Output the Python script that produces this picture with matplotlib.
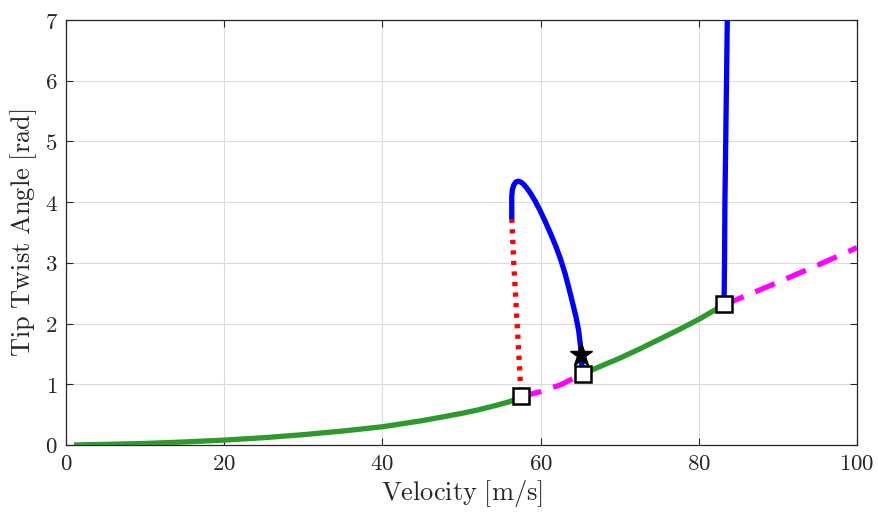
import matplotlib
matplotlib.use("Agg")
import matplotlib.pyplot as plt
from matplotlib.ticker import FuncFormatter

plt.rcParams['mathtext.fontset'] = 'cm'
plt.rcParams['font.family'] = ['DejaVu Serif']

# Stable branch (green) segments
green1_v = [1, 5, 10, 15, 20, 25, 30, 35, 40, 45, 50, 52, 54, 56, 57.5]
green1_y = [0.0, 0.01, 0.025, 0.05, 0.08, 0.12, 0.17, 0.23, 0.3, 0.4, 0.52, 0.575, 0.64, 0.71, 0.79]
green2_v = [65.3, 68, 70, 72.5, 75, 77.5, 80, 83.2]
green2_y = [1.17, 1.32, 1.43, 1.58, 1.74, 1.9, 2.07, 2.31]

# Unstable branch (magenta dashed)
mag1_v = [57.5, 60, 62.5, 65.3]
mag1_y = [0.79, 0.88, 0.99, 1.17]
mag2_v = [83.2, 86, 90, 95, 100]
mag2_y = [2.31, 2.46, 2.68, 2.96, 3.25]

# Limit cycle branches (blue stable, red unstable)
red_v = [57.5, 57.2, 56.9, 56.6, 56.35]
red_y = [0.88, 1.6, 2.3, 3.0, 3.76]
blue1_v = [56.35, 56.35, 56.42, 56.6, 56.85, 57.2, 57.5, 57.8, 58.2, 58.7, 59.3, 59.9, 60.5, 61.2, 61.9, 62.5, 63.1, 63.7, 64.1, 64.5, 64.8, 65.0, 65.15, 65.2]
blue1_y = [3.76, 4.09, 4.2, 4.28, 4.33, 4.345, 4.33, 4.3, 4.24, 4.15, 4.02, 3.87, 3.705, 3.5, 3.28, 3.07, 2.82, 2.52, 2.31, 2.09, 1.89, 1.68, 1.5, 1.35]
blue2_v = [83.2, 83.25, 83.3, 83.4, 83.5, 83.6]
blue2_y = [2.45, 3.0, 4.0, 5.0, 6.0, 7.0]

# Bifurcation points
hopf_v = [57.5, 65.3, 83.2]
hopf_y = [0.8, 1.17, 2.32]
star_v = [65.1]
star_y = [1.48]

fig = plt.figure(figsize=(8.79, 5.13), dpi=100)
ax = fig.add_axes([0.0751, 0.1326, 0.8999, 0.8284])

lw = 3.8
green = '#2e9a2e'
ax.plot(green1_v, green1_y, color=green, lw=lw, solid_capstyle='butt', zorder=3)
ax.plot(green2_v, green2_y, color=green, lw=lw, solid_capstyle='butt', zorder=3)
ax.plot(mag1_v, mag1_y, color='#ff00ff', lw=lw, dashes=(4, 2.4), zorder=3)
ax.plot(mag2_v, mag2_y, color='#ff00ff', lw=lw, dashes=(4, 2.4), zorder=3)
ax.plot(red_v, red_y, color='#ff0000', lw=lw, dashes=(0.8, 1.2), zorder=3)
ax.plot(blue1_v, blue1_y, color='#0000ff', lw=lw, zorder=4, solid_joinstyle='round')
ax.plot(blue2_v, blue2_y, color='#0000ff', lw=lw, zorder=4)
ax.plot(star_v, star_y, marker='*', color='black', ms=17, ls='none', zorder=5)
ax.plot(hopf_v, hopf_y, marker='s', mfc='white', mec='black', mew=1.8, ms=12, ls='none', zorder=6)

ax.set_xlim(0, 100)
ax.set_ylim(0, 7)
ax.set_xticks([0, 20, 40, 60, 80, 100])
ax.set_yticks(range(0, 8))
fmt = FuncFormatter(lambda v, p: r'$%d$' % v)
ax.xaxis.set_major_formatter(fmt)
ax.yaxis.set_major_formatter(fmt)
ax.tick_params(direction='in', top=True, right=True, labelsize=16.5, length=5, width=0.8, colors='#262626', pad=6)
ax.grid(True, color='#dcdcdc', lw=0.8)
ax.set_axisbelow(True)
for s in ax.spines.values():
    s.set_color('#262626')
    s.set_linewidth(0.9)

ax.set_xlabel(r'$\mathrm{Velocity\ [m/s]}$', fontsize=19, color='#262626', labelpad=2)
ax.set_ylabel(r'$\mathrm{Tip\ Twist\ Angle\ [rad]}$', fontsize=19, color='#262626', labelpad=4)

fig.savefig('out.png', dpi=100)
